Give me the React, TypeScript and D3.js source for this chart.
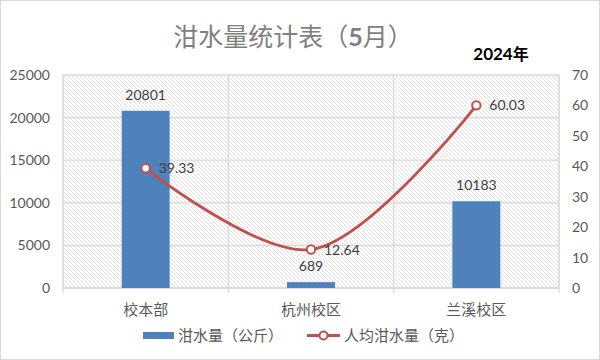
import React from "react";
import * as d3 from "d3";

const categories = ["校本部", "杭州校区", "兰溪校区"];
const swillKg = [20801, 689, 10183];
const perCapitaG = [39.33, 12.64, 60.03];
const leftTicks = [0, 5000, 10000, 15000, 20000, 25000];
const rightTicks = [0, 10, 20, 30, 40, 50, 60, 70];
const titleText = "泔水量统计表（";
const titleMonth = "5";
const legendBar = "泔水量（公斤）";
const legendLine = "人均泔水量（克）";

const W = 600, H = 360;
const M = { left: 63, right: 559, top: 75, bottom: 288 };
const numFont = "Lato, 'Liberation Sans', sans-serif";
const cjkFont = "'Noto Sans CJK SC', sans-serif";
const BLUE = "#4F81BD";
const RED = "#C0504D";

export default function App() {
  const x = d3.scaleBand<string>().domain(categories).range([M.left, M.right]).paddingInner(0).paddingOuter(0);
  const yL = d3.scaleLinear().domain([0, 25000]).range([M.bottom, M.top]);
  const yR = d3.scaleLinear().domain([0, 70]).range([M.bottom, M.top]);
  const bw = x.bandwidth() * 0.29;
  const cx = (c: string) => (x(c) as number) + x.bandwidth() / 2;
  const pts: [number, number][] = categories.map((c, i) => [cx(c), yR(perCapitaG[i])]);
  const line = d3.line().curve(d3.curveCatmullRom.alpha(0.5))(pts) as string;
  const bounds = [...categories.map((c) => x(c) as number), M.right];

  return (
    <svg width={W} height={H} style={{ position: "absolute", left: 0, top: 0 }}>
      <defs>
        <pattern id="hatch" width={4} height={4} patternUnits="userSpaceOnUse">
          <path d="M-1,-1 L5,5 M-1,3 L1,5 M3,-1 L5,1" stroke="#DADADA" strokeWidth={0.8} />
        </pattern>
      </defs>
      <rect x={0.5} y={0.5} width={W - 1} height={H - 1} fill="#fff" stroke="#D9D9D9" />
      <text x={293} y={46} textAnchor="middle" fontFamily={cjkFont} fontSize={25} fill="#7F7F7F">
        {titleText}
        <tspan fontWeight="bold" fontFamily={numFont}>{titleMonth}</tspan>
        月）
      </text>
      <text x={501} y={60} textAnchor="middle" fontFamily={cjkFont} fontSize={16} fontWeight="bold" fill="#000">
        <tspan fontFamily={numFont} fontSize={17}>2024</tspan>年
      </text>
      <rect x={M.left} y={M.top} width={M.right - M.left} height={M.bottom - M.top} fill="url(#hatch)" stroke="#D9D9D9" />
      {leftTicks.map((t) => (
        <line key={"g" + t} x1={M.left} x2={M.right} y1={yL(t)} y2={yL(t)} stroke="#D9D9D9" strokeWidth={1.2} />
      ))}
      {bounds.map((b, i) => (
        <g key={"v" + i}>
          <line x1={b} x2={b} y1={M.top} y2={M.bottom} stroke="#D9D9D9" strokeWidth={1.2} />
          <line x1={b} x2={b} y1={M.bottom} y2={M.bottom + 5} stroke="#D9D9D9" strokeWidth={1.2} />
        </g>
      ))}
      <line x1={M.left} x2={M.right} y1={M.bottom} y2={M.bottom} stroke="#D9D9D9" strokeWidth={1.5} />
      {leftTicks.map((t) => (
        <text key={"l" + t} x={50} y={yL(t) + 5} textAnchor="end" fontFamily={numFont} fontSize={14} fill="#595959">{t}</text>
      ))}
      {rightTicks.map((t) => (
        <text key={"r" + t} x={572} y={yR(t) + 5} textAnchor="start" fontFamily={numFont} fontSize={14} fill="#595959">{t}</text>
      ))}
      {categories.map((c) => (
        <text key={"c" + c} x={cx(c)} y={315} textAnchor="middle" fontFamily={cjkFont} fontSize={15} fill="#595959">{c}</text>
      ))}
      {categories.map((c, i) => (
        <rect key={"b" + c} x={cx(c) - bw / 2} y={yL(swillKg[i])} width={bw} height={M.bottom - yL(swillKg[i])} fill={BLUE} />
      ))}
      {categories.map((c, i) => (
        <text key={"bl" + c} x={cx(c)} y={yL(swillKg[i]) - 11} textAnchor="middle" fontFamily={numFont} fontSize={14} fill="#404040">{swillKg[i]}</text>
      ))}
      <path d={line} fill="none" stroke={RED} strokeWidth={2.8} strokeLinecap="round" />
      {pts.map((p, i) => (
        <g key={"p" + i}>
          <circle cx={p[0]} cy={p[1]} r={4.2} fill="#fff" stroke={RED} strokeWidth={2} />
          <text x={p[0] + 13} y={p[1] + 5} fontFamily={numFont} fontSize={14} fill="#404040">{perCapitaG[i].toFixed(2)}</text>
        </g>
      ))}
      <rect x={143} y={332} width={31} height={7} fill={BLUE} />
      <text x={178} y={341} fontFamily={cjkFont} fontSize={15} fill="#595959">{legendBar}</text>
      <line x1={307} x2={340} y1={335.5} y2={335.5} stroke={RED} strokeWidth={2.8} />
      <circle cx={323.5} cy={335.5} r={4} fill="#fff" stroke={RED} strokeWidth={2} />
      <text x={344} y={341} fontFamily={cjkFont} fontSize={15} fill="#595959">{legendLine}</text>
    </svg>
  );
}
